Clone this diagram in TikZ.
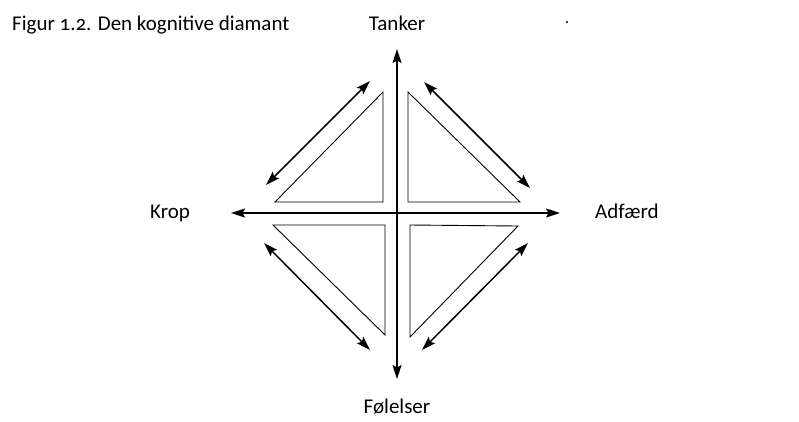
\documentclass[tikz,border=0pt]{standalone}
\usepackage{fontspec}
\setmainfont{Carlito}
\usetikzlibrary{arrows.meta}
\begin{document}
\begin{tikzpicture}[x=1pt,y=-1pt,
  lbl/.style={font=\fontsize{21}{24}\selectfont, inner sep=0pt, anchor=base},
  tip/.style={Stealth[length=14pt,width=9pt,inset=2.5pt]},
  axis/.style={line width=1.6pt, {Stealth[length=14pt,width=9pt,inset=2.5pt]}-{Stealth[length=14pt,width=9pt,inset=2.5pt]}},
  diag/.style={line width=1.5pt, {Stealth[length=14pt,width=9pt,inset=2.5pt]}-{Stealth[length=14pt,width=9pt,inset=2.5pt]}},
  tri/.style={line width=0.9pt, line join=miter}]
\useasboundingbox[fill=white] (0,0) rectangle (799,421);
% labels
\node[lbl, anchor=base west] (title) at (12,30) {Figur {\addfontfeatures{Numbers=OldStyle}1.2.} Den kognitive diamant};
\node[lbl] (tanker) at (397,30) {Tanker};
\node[lbl] (krop) at (170,218) {Krop};
\node[lbl, anchor=base west] (adfaerd) at (595,218) {Adfærd};
\node[lbl] (folelser) at (397,413) {Følelser};
\fill (567,22) circle (1.1pt);
% axis tips
\coordinate (ttip) at (397,49);
\coordinate (btip) at (397,379);
\coordinate (ltip) at (231,213);
\coordinate (rtip) at (560,213);
\draw[axis] (btip) -- (ttip);
\draw[axis] (ltip) -- (rtip);
% triangles
\draw[tri] (275,202) -- (383,202) -- (383,92) -- cycle;
\draw[tri] (408,92) -- (408,202) -- (520,202) -- cycle;
\draw[tri] (273,225) -- (385,225) -- (385,335) -- cycle;
\draw[tri] (410,225) -- (518,226) -- (410,337) -- cycle;
% diagonal arrows
\coordinate (a1) at (266,185); \coordinate (a2) at (370,81);
\coordinate (b1) at (424,82);  \coordinate (b2) at (530,188);
\coordinate (c1) at (264,243); \coordinate (c2) at (370,350);
\coordinate (d1) at (528,243); \coordinate (d2) at (422,350);
\draw[diag] (a1) -- (a2);
\draw[diag] (b1) -- (b2);
\draw[diag] (c1) -- (c2);
\draw[diag] (d1) -- (d2);
\end{tikzpicture}
\end{document}
